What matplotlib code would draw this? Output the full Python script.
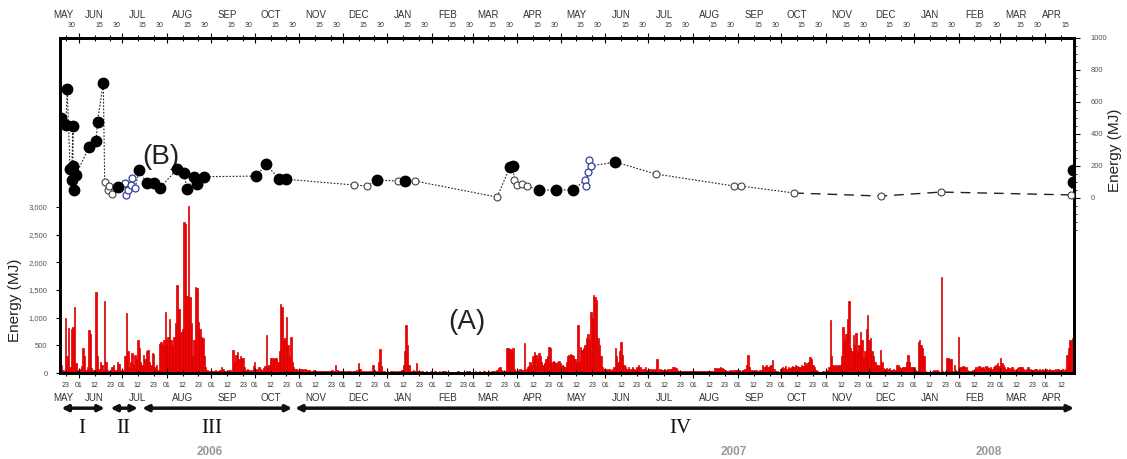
"""
Recreation of the two-panel energy time series: daily energy (A, red bars)
and event energy (B, circles) on a shared May 2006 - Apr 2008 time axis.
"""

import numpy as np
import pandas as pd
import matplotlib
matplotlib.use("Agg")
import matplotlib.pyplot as plt
import matplotlib.dates as mdates
import matplotlib.transforms as mtransforms

plt.rcParams["font.family"] = ["Liberation Sans", "DejaVu Sans"]

# --- (A) daily energy, MJ, one value per day starting 2006-05-19 ---
a_2006_05 = [1400, 150, 60, 40, 990, 300, 810, 100, 800, 830, 1190, 180, 60]
a_2006_06 = [60, 80, 120, 450, 300, 60, 100, 770, 700, 90, 50, 60, 1460, 300, 80,
             200, 150, 50, 1310, 200, 60, 40, 50, 100, 150, 60, 40, 200, 160, 50]
a_2006_07 = [40, 60, 300, 1080, 400, 100, 200, 370, 150, 320, 250, 600, 450, 200, 150,
             320, 250, 400, 410, 200, 150, 360, 350, 100, 150, 60, 530, 560, 500, 600, 1100]
a_2006_08 = [600, 650, 984, 600, 500, 650, 900, 1584, 1164, 1150, 744, 800, 2724, 2700, 1400,
             3024, 1374, 900, 300, 600, 1554, 1530, 924, 800, 650, 624, 300, 100, 50, 40, 30]
a_2006_09 = [40, 30, 40, 50, 30, 40, 60, 100, 80, 40, 30, 40, 60, 50, 40,
             414, 200, 324, 380, 250, 300, 280, 264, 100, 60, 80, 50, 40, 60, 120]
a_2006_10 = [200, 80, 60, 100, 80, 60, 90, 120, 684, 100, 150, 264, 264, 250, 264, 264,
             200, 400, 1254, 1200, 600, 624, 1014, 500, 300, 654, 200, 100, 80, 80, 60]
a_2006_11 = [80, 70, 70, 60, 80, 60, 60, 50, 40, 40, 50, 30, 30, 40, 30,
             30, 40, 30, 30, 40, 30, 30, 40, 50, 40, 144, 60, 40, 30, 30]
a_2006_12 = [30, 30, 20, 30, 40, 30, 20, 30, 40, 30, 60, 174, 80, 30, 30, 20,
             30, 20, 30, 40, 30, 144, 60, 30, 40, 200, 432, 120, 40, 30, 20]
a_2007_01 = [30, 20, 30, 40, 30, 20, 30, 20, 30, 40, 60, 150, 400, 864, 500, 150,
             40, 30, 60, 40, 174, 40, 30, 20, 30, 20, 20, 30, 20, 20, 30]
a_2007_02 = [20, 20, 30, 20, 20, 30, 20, 30, 40, 30, 20, 20, 15, 20,
             20, 15, 20, 20, 30, 20, 20, 15, 20, 20, 30, 40, 30, 20]
a_2007_03 = [20, 20, 30, 20, 20, 30, 20, 20, 30, 20, 20, 30, 20, 30, 40, 30,
             40, 60, 84, 100, 60, 40, 30, 40, 444, 450, 440, 420, 444, 80, 40]
a_2007_04 = [40, 60, 80, 60, 50, 534, 80, 100, 120, 200, 150, 300, 380, 320, 250,
             354, 300, 200, 150, 180, 250, 300, 474, 444, 200, 220, 200, 180, 200, 210]
a_2007_05 = [180, 150, 120, 100, 200, 300, 324, 350, 324, 300, 250, 200, 864, 200, 474, 420,
             450, 500, 624, 700, 600, 1104, 1000, 1404, 1380, 1314, 624, 500, 300, 100, 80]
a_2007_06 = [80, 60, 80, 70, 60, 80, 100, 444, 300, 200, 400, 564, 324, 150, 100,
             80, 100, 60, 80, 100, 80, 60, 100, 144, 100, 80, 60, 80, 100, 60]
a_2007_07 = [60, 80, 60, 80, 60, 70, 252, 60, 80, 60, 50, 70, 60, 80, 60, 70,
             80, 100, 114, 90, 60, 40, 30, 40, 30, 40, 30, 40, 30, 40, 30]
a_2007_08 = [30, 40, 30, 30, 40, 30, 40, 30, 30, 40, 30, 40, 30, 40, 30, 84,
             90, 80, 84, 100, 84, 80, 60, 40, 40, 50, 40, 60, 40, 50, 60]
a_2007_09 = [60, 50, 40, 60, 50, 80, 150, 324, 100, 60, 50, 40, 60, 50, 40,
             50, 60, 144, 100, 120, 144, 100, 130, 144, 234, 80, 40, 30, 20, 20]
a_2007_10 = [80, 100, 90, 120, 80, 100, 90, 110, 120, 100, 144, 120, 100, 110, 150, 130,
             204, 150, 180, 200, 294, 250, 150, 100, 60, 30, 20, 20, 20, 30, 20]
a_2007_11 = [40, 60, 100, 954, 300, 144, 120, 144, 130, 150, 140, 300, 834, 600, 700,
             984, 1296, 444, 400, 684, 500, 714, 400, 500, 744, 600, 264, 400, 800, 1044]
a_2007_12 = [600, 624, 400, 300, 204, 150, 150, 120, 414, 200, 84, 80, 84, 70, 84, 60,
             60, 70, 60, 144, 140, 100, 90, 100, 110, 100, 200, 324, 200, 100, 114]
a_2008_01 = [100, 60, 40, 564, 594, 500, 450, 300, 40, 20, 20, 20, 20, 30, 50, 40,
             50, 30, 20, 1734, 30, 20, 30, 264, 264, 260, 250, 40, 144, 60, 40]
a_2008_02 = [654, 114, 100, 120, 110, 100, 60, 40, 40, 30, 60, 80, 100, 80, 120,
             100, 90, 100, 80, 120, 100, 90, 110, 80, 100, 120, 150, 174, 120]
a_2008_03 = [264, 174, 150, 100, 80, 100, 90, 80, 100, 80, 60, 80, 90, 100, 114, 100,
             80, 60, 80, 100, 60, 80, 60, 60, 80, 70, 60, 80, 60, 70, 60]
a_2008_04 = [60, 70, 60, 80, 60, 50, 60, 70, 60, 80, 60, 60, 70, 60, 80, 324, 450, 594, 600, 624]

# --- (B) event energy, MJ ---
b_filled_dates = ["2006-05-20", "2006-05-23", "2006-05-24", "2006-05-26", "2006-05-27",
                  "2006-05-28", "2006-05-28", "2006-05-29", "2006-05-30", "2006-06-08",
                  "2006-06-13", "2006-06-14", "2006-06-18", "2006-06-28", "2006-07-13",
                  "2006-07-18", "2006-07-23", "2006-07-27", "2006-08-08", "2006-08-13",
                  "2006-08-15", "2006-08-20", "2006-08-22", "2006-08-27", "2006-10-02",
                  "2006-10-09", "2006-10-18", "2006-10-23", "2006-12-25", "2007-01-13",
                  "2007-03-27", "2007-03-29", "2007-04-16", "2007-04-28", "2007-05-10",
                  "2007-06-08", "2008-04-20", "2008-04-20"]
b_filled_vals = [498, 456, 679, 179, 112, 452, 200, 50, 144, 317,
                 356, 477, 721, 71, 175, 92, 92, 60, 179, 154,
                 54, 133, 85, 133, 137, 210, 117, 117, 112, 106,
                 194, 200, 50, 50, 50, 225, 100, 175]
b_open_dates = ["2006-06-19", "2006-06-21", "2006-06-22", "2006-06-24", "2006-12-09",
                "2006-12-18", "2007-01-08", "2007-01-20", "2007-03-18", "2007-03-30",
                "2007-04-01", "2007-04-04", "2007-04-08", "2007-07-06", "2007-08-29",
                "2007-09-03", "2007-10-10", "2007-12-09", "2008-01-20", "2008-04-19"]
b_open_vals = [100, 50, 75, 25, 81, 75, 106, 106, 6, 112,
               81, 87, 75, 150, 75, 75, 31, 12, 37, 19]
b_blue_dates = ["2006-07-03", "2006-07-04", "2006-07-05", "2006-07-07", "2006-07-08",
                "2006-07-10", "2007-05-18", "2007-05-19", "2007-05-20", "2007-05-21",
                "2007-05-22"]
b_blue_vals = [94, 19, 50, 81, 125, 62, 112, 75, 162, 237, 200]

month_names = ["MAY", "JUN", "JUL", "AUG", "SEP", "OCT", "NOV", "DEC", "JAN", "FEB", "MAR", "APR"]
periods = [("I", "2006-05-20", "2006-06-19"), ("II", "2006-06-23", "2006-07-12"),
           ("III", "2006-07-15", "2006-10-27"), ("IV", "2006-10-29", "2008-04-21")]
period_label_dates = ["2006-06-03", "2006-07-02", "2006-09-01", "2007-07-23"]
years = [("2006", "2006-08-31"), ("2007", "2007-08-29"), ("2008", "2008-02-22")]

START = pd.Timestamp("2006-05-19")
END = pd.Timestamp("2008-04-21")


def dn(d):
    return mdates.date2num(pd.Timestamp(d))


energy_a = np.concatenate([a_2006_05, a_2006_06, a_2006_07, a_2006_08, a_2006_09, a_2006_10,
                           a_2006_11, a_2006_12, a_2007_01, a_2007_02, a_2007_03, a_2007_04,
                           a_2007_05, a_2007_06, a_2007_07, a_2007_08, a_2007_09, a_2007_10,
                           a_2007_11, a_2007_12, a_2008_01, a_2008_02, a_2008_03, a_2008_04])
dates_a = mdates.date2num(pd.date_range(START, periods=len(energy_a), freq="D"))

W, H = 1127, 459
fig = plt.figure(figsize=(W / 100, H / 100), dpi=100)
ax = fig.add_axes([60 / W, 1 - 373 / H, (1074 - 60) / W, (373 - 38) / H])
ax2 = ax.twinx()

# (A) bars
ax.bar(dates_a, energy_a, width=1.0, color="#ff0000", edgecolor="#d00000", linewidth=0.5)
ax.set_ylim(0, 3000 * 335 / 166)
ax.set_yticks(range(0, 3001, 500))
ax.set_yticklabels([f"{v:,}" for v in range(0, 3001, 500)], fontsize=5.5, color="#555555")
ax.set_xlim(dn(START), dn(END))

# (B) circles joined by a line
pts = pd.concat([
    pd.DataFrame({"date": pd.to_datetime(b_filled_dates), "val": b_filled_vals}),
    pd.DataFrame({"date": pd.to_datetime(b_open_dates), "val": b_open_vals}),
    pd.DataFrame({"date": pd.to_datetime(b_blue_dates), "val": b_blue_vals}),
]).sort_values("date", kind="stable")
pts["x"] = mdates.date2num(pts.date)
split = pd.Timestamp("2007-10-10")
early = pts[pts.date <= split]
late = pts[pts.date >= split]
ax2.plot(early.x, early.val, ls=(0, (1.5, 1.5)), color="#222222", lw=0.8, zorder=2)
ax2.plot(late.x, late.val, ls=(0, (7, 5)), color="#222222", lw=1.0, zorder=2)
ax2.plot(mdates.date2num(pd.to_datetime(b_open_dates)), b_open_vals, "o", ms=5, mfc="white",
         mec="#444444", mew=0.8, ls="none", zorder=3)
ax2.plot(mdates.date2num(pd.to_datetime(b_blue_dates)), b_blue_vals, "o", ms=5, mfc="white",
         mec="#3040a0", mew=0.9, ls="none", zorder=3)
ax2.plot(mdates.date2num(pd.to_datetime(b_filled_dates)), b_filled_vals, "o", ms=7.5,
         mfc="black", mec="black", ls="none", zorder=4)
ax2.set_ylim(-1094, 1000)
ax2.set_yticks(range(0, 1001, 200))
ax2.set_yticklabels([str(v) for v in range(0, 1001, 200)], fontsize=5.5, color="#555555")
ax2.set_yticks(range(-200, 1001, 50), minor=True)
ax2.tick_params(axis="y", which="major", length=4, width=0.8, pad=8)
ax2.tick_params(axis="y", which="minor", length=2, width=0.6)
ax.tick_params(axis="y", length=3, width=0.8, pad=6)

for a in (ax, ax2):
    for s in a.spines.values():
        s.set_linewidth(2)
        s.set_color("black")

# time axis ticks: month starts and day marks, top and bottom
all_days = pd.date_range(START, END, freq="D")
month_starts = pd.date_range("2006-06-01", "2008-04-01", freq="MS")
ax.set_xticks(mdates.date2num(month_starts))
ax.set_xticklabels([])
day_ticks = [d for d in all_days if d.day in (1, 12, 23)]
ax.set_xticks(mdates.date2num(day_ticks), minor=True)
ax.tick_params(axis="x", which="both", top=True, direction="inout", width=0.8)
ax.tick_params(axis="x", which="major", length=7)
ax.tick_params(axis="x", which="minor", length=4)

tr = mtransforms.blended_transform_factory(ax.transData, ax.transAxes)
for d in day_ticks:
    ax.text(dn(d), -0.036, f"{d.day:02d}", transform=tr, ha="center", va="center",
            fontsize=5, color="#333333")
for d in all_days:
    if d.day == 15:
        ax.text(dn(d), 1.036, "15", transform=tr, ha="center", va="center",
                fontsize=5, color="#333333")
    if d.day == 27:
        ax.text(dn(d), 1.036, "30", transform=tr, ha="center", va="center",
                fontsize=5, color="#333333")

months = pd.date_range("2006-05-01", "2008-04-01", freq="MS")
for i, m in enumerate(months):
    if i == 0:
        pos = pd.Timestamp("2006-05-21")
    elif i == len(months) - 1:
        pos = pd.Timestamp("2008-04-06")
    else:
        pos = m + pd.Timedelta(days=11)
    for y in (-0.075, 1.069):
        ax.text(dn(pos), y, month_names[(m.month - 5) % 12], transform=tr, ha="center",
                va="center", fontsize=7, color="#333333")

# period arrows and roman numerals
for (name, d0, d1), ld in zip(periods, period_label_dates):
    ax.annotate("", xy=(dn(d1), -0.105), xytext=(dn(d0), -0.105),
                xycoords=tr, textcoords=tr, annotation_clip=False,
                arrowprops=dict(arrowstyle="<|-|>", color="#111111", lw=2.5,
                                mutation_scale=9, shrinkA=0, shrinkB=0))
    ax.text(dn(ld), -0.165, name, transform=tr, ha="center", va="center",
            fontsize=15, family=["Liberation Serif", "DejaVu Serif"], color="#111111")

for label, d in years:
    ax.text(dn(d), -0.236, label, transform=tr, ha="center", va="center",
            fontsize=8.5, fontweight="bold", color="#999999")

ax.text(0.099, 0.644, "(B)", transform=ax.transAxes, ha="center", va="center",
        fontsize=20, color="#222222")
ax.text(0.401, 0.152, "(A)", transform=ax.transAxes, ha="center", va="center",
        fontsize=20, color="#222222")

fig.text(15 / W, 1 - 300 / H, "Energy (MJ)", rotation=90, ha="center", va="center",
         fontsize=11, color="#222222")
fig.text(1115 / W, 1 - 150 / H, "Energy (MJ)", rotation=90, ha="center", va="center",
         fontsize=11, color="#222222")

fig.savefig("out.png", dpi=100)
